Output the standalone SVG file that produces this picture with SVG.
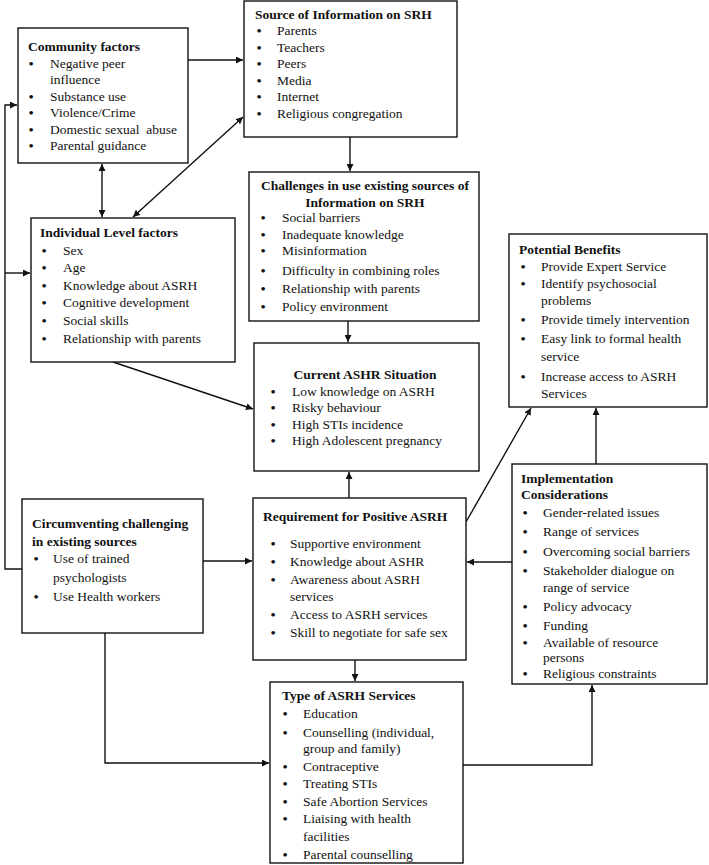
<svg xmlns="http://www.w3.org/2000/svg" width="709" height="865" viewBox="0 0 709 865">
<defs>
<marker id="ah" viewBox="0 0 10 10" refX="10" refY="5" markerWidth="7" markerHeight="7" markerUnits="userSpaceOnUse" orient="auto-start-reverse">
<path d="M0,0 L10,5 L0,10 z" fill="#111"/>
</marker>
<style>
.box{fill:#fff;stroke:#111;stroke-width:1.4}
text{font-family:"Liberation Serif","Times New Roman",serif;font-size:13.5px;fill:#111}
.t{font-weight:bold}
.b{text-anchor:middle;font-weight:bold}
.c{text-anchor:middle;font-weight:bold}
.ln{fill:none;stroke:#111;stroke-width:1.4}
</style>
</defs>
<rect width="709" height="865" fill="#fff"/>
<g id="connectors">
<line class="ln" x1="188" y1="60" x2="243" y2="60" marker-end="url(#ah)"/>
<line class="ln" x1="102" y1="164" x2="102" y2="217" marker-start="url(#ah)" marker-end="url(#ah)"/>
<line class="ln" x1="133" y1="217" x2="243" y2="117" marker-start="url(#ah)" marker-end="url(#ah)"/>
<path class="ln" d="M22,569 H5 V105 H17" marker-end="url(#ah)"/>
<line class="ln" x1="5" y1="273" x2="30" y2="273" marker-end="url(#ah)"/>
<line class="ln" x1="350" y1="137" x2="350" y2="171" marker-end="url(#ah)"/>
<line class="ln" x1="348" y1="321" x2="348" y2="342" marker-end="url(#ah)"/>
<line class="ln" x1="113" y1="362" x2="253" y2="409" marker-end="url(#ah)"/>
<line class="ln" x1="203" y1="561" x2="252" y2="561" marker-end="url(#ah)"/>
<path class="ln" d="M105,633 V763 H269" marker-end="url(#ah)"/>
<line class="ln" x1="349" y1="498" x2="349" y2="472" marker-end="url(#ah)"/>
<line class="ln" x1="355" y1="660" x2="355" y2="681" marker-end="url(#ah)"/>
<line class="ln" x1="512" y1="562" x2="467" y2="562" marker-end="url(#ah)"/>
<line class="ln" x1="466" y1="522" x2="531" y2="408" marker-end="url(#ah)"/>
<line class="ln" x1="596" y1="464" x2="596" y2="408" marker-end="url(#ah)"/>
<path class="ln" d="M463,765 H592 V685" marker-end="url(#ah)"/>
</g>
<g id="community">
<rect class="box" x="18" y="28" width="170" height="135"/>
<text class="t" x="28" y="51">Community factors</text>
<text class="b" x="31" y="67.5">•</text><text x="50" y="67.5">Negative peer</text>
<text x="50" y="84">influence</text>
<text class="b" x="31" y="100.5">•</text><text x="50" y="100.5">Substance use</text>
<text class="b" x="31" y="117">•</text><text x="50" y="117">Violence/Crime</text>
<text class="b" x="31" y="133.5">•</text><text x="50" y="133.5" style="white-space:pre">Domestic sexual  abuse</text>
<text class="b" x="31" y="150">•</text><text x="50" y="150">Parental guidance</text>
</g>
<g id="source">
<rect class="box" x="244" y="1" width="213" height="136"/>
<text class="t" x="255" y="19">Source of Information on SRH</text>
<text class="b" x="259" y="35">•</text><text x="277" y="35">Parents</text>
<text class="b" x="259" y="51.5">•</text><text x="277" y="51.5">Teachers</text>
<text class="b" x="259" y="68">•</text><text x="277" y="68">Peers</text>
<text class="b" x="259" y="84.5">•</text><text x="277" y="84.5">Media</text>
<text class="b" x="259" y="101">•</text><text x="277" y="101">Internet</text>
<text class="b" x="259" y="117.5">•</text><text x="277" y="117.5">Religious congregation</text>
</g>
<g id="challenges">
<rect class="box" x="249" y="172" width="230" height="149"/>
<text class="c" x="365" y="189.5">Challenges in use existing sources of</text>
<text class="c" x="365" y="206.5">Information on SRH</text>
<text class="b" x="263" y="222">•</text><text x="282" y="222">Social barriers</text>
<text class="b" x="263" y="238.5">•</text><text x="282" y="238.5">Inadequate knowledge</text>
<text class="b" x="263" y="255">•</text><text x="282" y="255">Misinformation</text>
<text class="b" x="263" y="274.5">•</text><text x="282" y="274.5">Difficulty in combining roles</text>
<text class="b" x="263" y="293">•</text><text x="282" y="293">Relationship with parents</text>
<text class="b" x="263" y="311">•</text><text x="282" y="311">Policy environment</text>
</g>
<g id="individual">
<rect class="box" x="31" y="218" width="204" height="144"/>
<text class="t" x="40" y="236.5">Individual Level factors</text>
<text class="b" x="44" y="254.5">•</text><text x="63" y="254.5">Sex</text>
<text class="b" x="44" y="271.5">•</text><text x="63" y="271.5">Age</text>
<text class="b" x="44" y="289.5">•</text><text x="63" y="289.5">Knowledge about ASRH</text>
<text class="b" x="44" y="307">•</text><text x="63" y="307">Cognitive development</text>
<text class="b" x="44" y="324.5">•</text><text x="63" y="324.5">Social skills</text>
<text class="b" x="44" y="342.5">•</text><text x="63" y="342.5">Relationship with parents</text>
</g>
<g id="current">
<rect class="box" x="254" y="343" width="225" height="128"/>
<text class="c" x="365" y="378.5">Current ASHR Situation</text>
<text class="b" x="273" y="395.5">•</text><text x="292" y="395.5">Low knowledge on ASRH</text>
<text class="b" x="273" y="412">•</text><text x="292" y="412">Risky behaviour</text>
<text class="b" x="273" y="428.5">•</text><text x="292" y="428.5">High STIs incidence</text>
<text class="b" x="273" y="445">•</text><text x="292" y="445">High Adolescent pregnancy</text>
</g>
<g id="benefits">
<rect class="box" x="509" y="234" width="198" height="173"/>
<text class="t" x="519" y="253.5">Potential Benefits</text>
<text class="b" x="523" y="270.5">•</text><text x="541" y="270.5">Provide Expert Service</text>
<text class="b" x="523" y="287.5">•</text><text x="541" y="287.5">Identify psychosocial</text>
<text x="541" y="304.5">problems</text>
<text class="b" x="523" y="323.5">•</text><text x="541" y="323.5">Provide timely intervention</text>
<text class="b" x="523" y="342.5">•</text><text x="541" y="342.5">Easy link to formal health</text>
<text x="541" y="360.5">service</text>
<text class="b" x="523" y="380.5">•</text><text x="541" y="380.5">Increase access to ASRH</text>
<text x="541" y="397.5">Services</text>
</g>
<g id="circumventing">
<rect class="box" x="22" y="499" width="181" height="134"/>
<text class="t" x="32" y="527.5">Circumventing challenging</text>
<text class="t" x="32" y="545.5">in existing sources</text>
<text class="b" x="36" y="562.5">•</text><text x="53" y="562.5">Use of trained</text>
<text x="53" y="581.5">psychologists</text>
<text class="b" x="36" y="600.5">•</text><text x="53" y="600.5">Use Health workers</text>
</g>
<g id="requirement">
<rect class="box" x="253" y="498" width="213" height="162"/>
<text class="t" x="263" y="520.5">Requirement for Positive ASRH</text>
<text class="b" x="273" y="547.5">•</text><text x="290" y="547.5">Supportive environment</text>
<text class="b" x="273" y="565.5">•</text><text x="290" y="565.5">Knowledge about ASHR</text>
<text class="b" x="273" y="583.5">•</text><text x="290" y="583.5">Awareness about ASRH</text>
<text x="290" y="600.5">services</text>
<text class="b" x="273" y="618.5">•</text><text x="290" y="618.5">Access to ASRH services</text>
<text class="b" x="273" y="636.5">•</text><text x="290" y="636.5">Skill to negotiate for safe sex</text>
</g>
<g id="implementation">
<rect class="box" x="512" y="464" width="195" height="220"/>
<text class="t" x="521" y="482.5">Implementation</text>
<text class="t" x="521" y="498.5">Considerations</text>
<text class="b" x="525" y="516.5">•</text><text x="543" y="516.5">Gender-related issues</text>
<text class="b" x="525" y="535.5">•</text><text x="543" y="535.5">Range of services</text>
<text class="b" x="525" y="555.5">•</text><text x="543" y="555.5">Overcoming social barriers</text>
<text class="b" x="525" y="574.5">•</text><text x="543" y="574.5">Stakeholder dialogue on</text>
<text x="543" y="591.5">range of service</text>
<text class="b" x="525" y="610.5">•</text><text x="543" y="610.5">Policy advocacy</text>
<text class="b" x="525" y="629.5">•</text><text x="543" y="629.5">Funding</text>
<text class="b" x="525" y="646.5">•</text><text x="543" y="646.5">Available of resource</text>
<text x="543" y="661.5">persons</text>
<text class="b" x="525" y="677.5">•</text><text x="543" y="677.5">Religious constraints</text>
</g>
<g id="services">
<rect class="box" x="270" y="682" width="193" height="181"/>
<text class="t" x="282" y="699.5">Type of ASRH Services</text>
<text class="b" x="285" y="717.5">•</text><text x="303" y="717.5">Education</text>
<text class="b" x="285" y="736.5">•</text><text x="303" y="736.5">Counselling (individual,</text>
<text x="303" y="752.5">group and family)</text>
<text class="b" x="285" y="770.5">•</text><text x="303" y="770.5">Contraceptive</text>
<text class="b" x="285" y="787.5">•</text><text x="303" y="787.5">Treating STIs</text>
<text class="b" x="285" y="805.5">•</text><text x="303" y="805.5">Safe Abortion Services</text>
<text class="b" x="285" y="822.5">•</text><text x="303" y="822.5">Liaising with health</text>
<text x="303" y="840.5">facilities</text>
<text class="b" x="285" y="858.5">•</text><text x="303" y="858.5">Parental counselling</text>
</g>
</svg>
